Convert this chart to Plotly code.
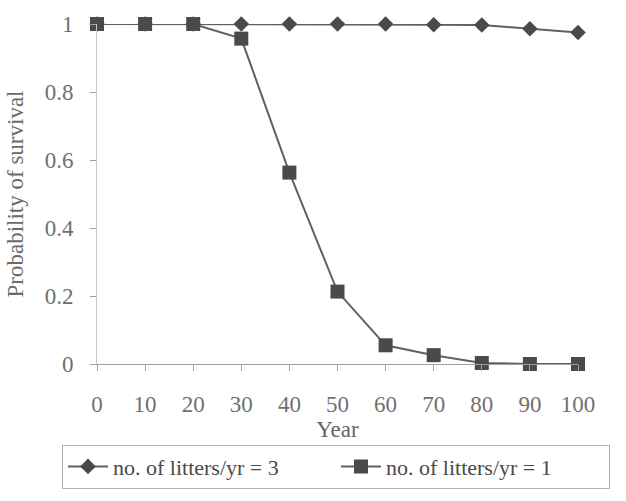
import plotly.graph_objects as go

years = [0, 10, 20, 30, 40, 50, 60, 70, 80, 90, 100]
surv_3 = [1.0, 1.0, 1.0, 1.0, 1.0, 1.0, 1.0, 0.998, 0.997, 0.986, 0.975]
surv_1 = [1.0, 1.0, 1.0, 0.957, 0.563, 0.213, 0.055, 0.026, 0.003, 0.0, 0.0]
names = ["no. of litters/yr = 3", "no. of litters/yr = 1"]
y_ticks = [0, 0.2, 0.4, 0.6, 0.8, 1]
y_tick_text = ["0", "0.2", "0.4", "0.6", "0.8", "1"]

FONT = "Liberation Serif, Times New Roman, serif"
mark = "#4a4a4a"
line = "#606060"

fig = go.Figure()
fig.add_trace(go.Scatter(
    x=years, y=surv_3, name=names[0], mode="lines+markers",
    line=dict(color=line, width=2),
    marker=dict(symbol="diamond", size=12, color=mark),
    cliponaxis=False,
))
fig.add_trace(go.Scatter(
    x=years, y=surv_1, name=names[1], mode="lines+markers",
    line=dict(color=line, width=2),
    marker=dict(symbol="square", size=14, color=mark),
    cliponaxis=False,
))

# plot area: x 97..578 px, y 18..364 px
fig.update_layout(
    width=626, height=501,
    margin=dict(l=97, r=48, t=18, b=137),
    paper_bgcolor="white", plot_bgcolor="white",
    font=dict(family=FONT, size=23, color="#707070"),
    showlegend=True,
    legend=dict(
        orientation="h",
        xref="paper", yref="paper",
        x=(62 - 97) / 481, y=-0.237,
        xanchor="left", yanchor="top",
        bordercolor="#b0b0b0", borderwidth=1,
        font=dict(family=FONT, size=22, color="#4a4a4a"),
        entrywidth=218, entrywidthmode="pixels",
        itemwidth=40,
        tracegroupgap=0,
    ),
    xaxis=dict(
        range=[0, 100],
        tickvals=years, ticktext=[str(v) for v in years],
        showgrid=False, zeroline=False,
        showline=True, linecolor="#a0a0a0", linewidth=1,
        ticks="outside", ticklen=6, tickcolor="#a0a0a0",
        ticklabelstandoff=13,
        title=dict(text="Year", standoff=4, font=dict(family=FONT, size=23, color="#666666")),
    ),
    yaxis=dict(
        range=[0, 1],
        tickvals=y_ticks, ticktext=y_tick_text,
        showgrid=False, zeroline=False,
        showline=True, linecolor="#c8c8c8", linewidth=1,
        ticks="outside", ticklen=6, tickcolor="#a0a0a0",
        ticklabelstandoff=12,
        title=dict(text="Probability of survival", standoff=14, font=dict(family=FONT, size=23, color="#6a6a6a")),
    ),
)

fig.write_html("out.html")
